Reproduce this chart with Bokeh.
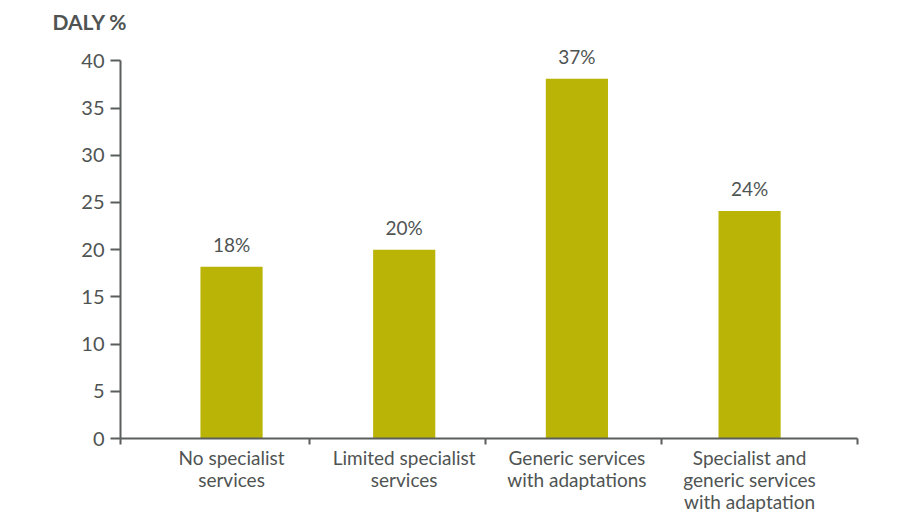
from bokeh.plotting import figure
from bokeh.models import ColumnDataSource, FixedTicker, Range1d
from bokeh.core.properties import value
from bokeh.embed import file_html
from bokeh.resources import INLINE

categories = ["No specialist\nservices", "Limited specialist\nservices",
              "Generic services\nwith adaptations",
              "Specialist and\ngeneric services\nwith adaptation"]
daly_values = [18.2, 20.0, 38.1, 24.1]
bar_labels = ["18%", "20%", "37%", "24%"]
y_ticks = [0, 5, 10, 15, 20, 25, 30, 35, 40]
y_title = "DALY %"

FONT = "Lato"
TXT = "#4f5453"
AX = "#5a5f5e"
BAR = "#b9b406"

xs = list(range(len(categories)))
src = ColumnDataSource(dict(x=xs, top=daly_values, lab=bar_labels))

p = figure(width=900, height=520, output_backend="svg", toolbar_location=None,
           x_range=Range1d(-0.643, 3.625), y_range=Range1d(0, 43),
           min_border_left=120, min_border_right=43, min_border_top=32,
           min_border_bottom=82, title=y_title)
p.outline_line_color = None
p.grid.grid_line_color = None
p.background_fill_color = "white"

p.title.text_font = FONT
p.title.text_font_size = "21px"
p.title.text_color = TXT
p.title.text_font_style = "bold"
p.title.align = "left"
p.title.offset = -68
p.title.standoff = -3

p.vbar(x="x", top="top", width=0.36, source=src, fill_color=BAR, line_color=None)
p.text(x="x", y="top", text="lab", source=src, text_align="center",
       text_baseline="bottom", y_offset=-11, text_font=value(FONT),
       text_font_size="19px", text_color=TXT)

# x axis
p.xaxis.ticker = FixedTicker(ticks=xs, minor_ticks=[-0.643, 0.45, 1.47, 2.49, 3.625])
p.xaxis.major_label_overrides = {i: c for i, c in zip(xs, categories)}
p.xaxis.major_tick_out = 0
p.xaxis.major_tick_in = 0
p.xaxis.minor_tick_out = 6
p.xaxis.minor_tick_in = 0
p.xaxis.minor_tick_line_color = AX
p.xaxis.minor_tick_line_width = 2
p.xaxis.major_label_standoff = 1
p.xaxis.major_label_text_font = FONT
p.xaxis.major_label_text_font_size = "19px"
p.xaxis.major_label_text_color = TXT
p.xaxis.major_label_text_line_height = 0.96

# y axis
p.yaxis.ticker = FixedTicker(ticks=y_ticks, minor_ticks=[])
p.yaxis.bounds = (0, 40)
p.yaxis.major_tick_out = 10
p.yaxis.major_tick_in = 0
p.yaxis.major_tick_line_width = 2
p.yaxis.major_tick_line_color = AX
p.yaxis.minor_tick_line_color = None
p.yaxis.major_label_standoff = 6
p.yaxis.major_label_text_font = FONT
p.yaxis.major_label_text_font_size = "20px"
p.yaxis.major_label_text_color = TXT

for ax in (p.xaxis, p.yaxis):
    ax.axis_line_color = AX
    ax.axis_line_width = 2

open("out.html", "w").write(file_html(p, INLINE))
